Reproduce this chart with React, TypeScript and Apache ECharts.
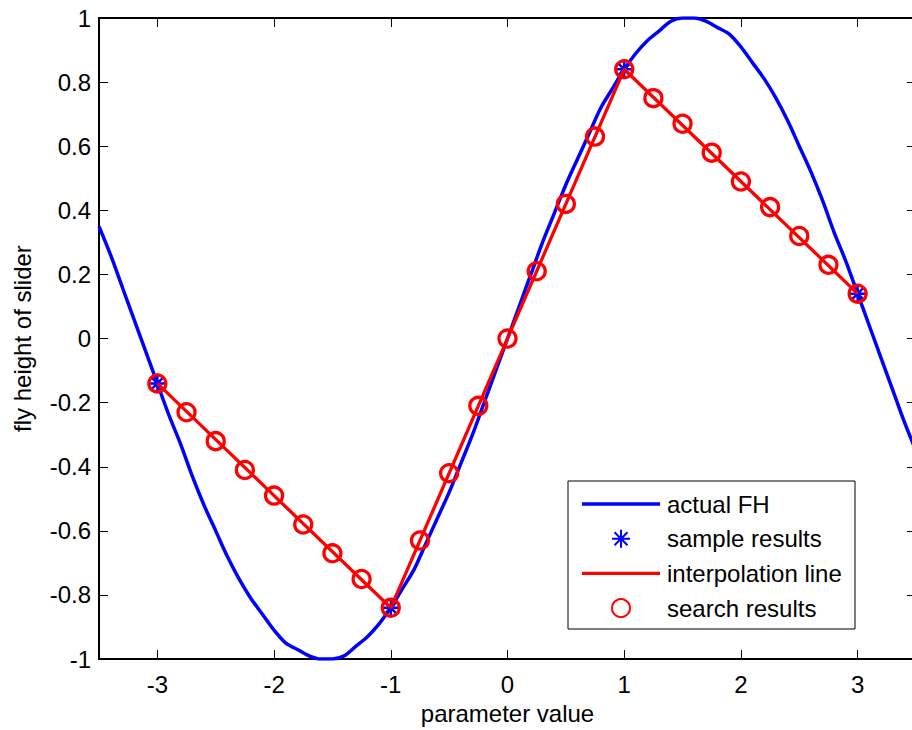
import React, { useEffect, useRef } from "react";
import * as echarts from "echarts";

const curveX = [
  -3.5, -3.4, -3.3, -3.2, -3.1, -3.0, -2.9, -2.8, -2.7, -2.6, -2.5, -2.4, -2.3, -2.2, -2.1, -2.0,
  -1.9, -1.8, -1.7, -1.6, -1.5, -1.4, -1.3, -1.2, -1.1, -1.0, -0.9, -0.8, -0.7, -0.6, -0.5, -0.4,
  -0.3, -0.2, -0.1, 0.0, 0.1, 0.2, 0.3, 0.4, 0.5, 0.6, 0.7, 0.8, 0.9, 1.0, 1.1, 1.2, 1.3, 1.4, 1.5,
  1.6, 1.7, 1.8, 1.9, 2.0, 2.1, 2.2, 2.3, 2.4, 2.5, 2.6, 2.7, 2.8, 2.9, 3.0, 3.1, 3.2, 3.3, 3.4, 3.5,
];
const curveY = [
  0.35, 0.26, 0.16, 0.06, -0.04, -0.14, -0.24, -0.33, -0.43, -0.52, -0.6, -0.68, -0.75, -0.81, -0.86, -0.91,
  -0.95, -0.97, -0.99, -1.0, -1.0, -0.99, -0.96, -0.93, -0.89, -0.84, -0.78, -0.72, -0.64, -0.56, -0.48, -0.39,
  -0.3, -0.2, -0.1, 0.0, 0.1, 0.2, 0.3, 0.39, 0.48, 0.56, 0.64, 0.72, 0.78, 0.84, 0.89, 0.93, 0.96, 0.99, 1.0,
  1.0, 0.99, 0.97, 0.95, 0.91, 0.86, 0.81, 0.75, 0.68, 0.6, 0.52, 0.43, 0.33, 0.24, 0.14, 0.04, -0.06, -0.16, -0.26, -0.35,
];

const sampleX = [-3, -1, 1, 3];
const sampleY = [-0.14, -0.84, 0.84, 0.14];

const searchX = [
  -3, -2.75, -2.5, -2.25, -2, -1.75, -1.5, -1.25, -1, -0.75, -0.5, -0.25, 0, 0.25, 0.5, 0.75, 1,
  1.25, 1.5, 1.75, 2, 2.25, 2.5, 2.75, 3,
];
const searchY = [
  -0.14, -0.23, -0.32, -0.41, -0.49, -0.58, -0.67, -0.75, -0.84, -0.63, -0.42, -0.21, 0.0, 0.21, 0.42, 0.63, 0.84,
  0.75, 0.67, 0.58, 0.49, 0.41, 0.32, 0.23, 0.14,
];

const xTicks = [-3, -2, -1, 0, 1, 2, 3];
const seriesNames = ["actual FH", "sample results", "interpolation line", "search results"];

const FONT = "'Liberation Sans', Arial, Helvetica, sans-serif";
const BLUE = "#0000ff";
const RED = "#ff0000";
const ASTERISK = "path://M0,-1L0,1M-1,0L1,0M-0.72,-0.72L0.72,0.72M-0.72,0.72L0.72,-0.72";
const LINE_ICON = "path://M0,0H78V3.4H0Z";

export default function App() {
  const ref = useRef<HTMLDivElement>(null);
  useEffect(() => {
    if (!ref.current) return;
    const chart = echarts.init(ref.current, undefined, { renderer: "svg" });
    const zip = (xs: number[], ys: number[]) => xs.map((x, i) => [x, ys[i]]);
    const axisLine = { onZero: false, lineStyle: { color: "#000", width: 2 } };
    const tick = { inside: true, length: 9, lineStyle: { color: "#000", width: 1 } };
    const labelStyle = { fontSize: 24, color: "#000", fontFamily: FONT };
    chart.setOption({
      animation: false,
      backgroundColor: "#fff",
      grid: { left: 99, top: 18, right: 4, bottom: 66, containLabel: false },
      xAxis: [
        {
          type: "value",
          position: "bottom",
          min: -3.5,
          max: 3.5,
          axisLine,
          axisTick: { ...tick, customValues: xTicks },
          axisLabel: { ...labelStyle, margin: 13, customValues: xTicks, formatter: (v: number) => String(v) },
          splitLine: { show: false },
          name: "parameter value",
          nameLocation: "middle",
          nameGap: 38,
          nameTextStyle: labelStyle,
        },
        {
          type: "value",
          position: "top",
          min: -3.5,
          max: 3.5,
          axisLine,
          axisTick: { ...tick, customValues: xTicks },
          axisLabel: { show: false, customValues: xTicks },
          splitLine: { show: false },
        },
      ],
      yAxis: [
        {
          type: "value",
          position: "left",
          min: -1,
          max: 1,
          interval: 0.2,
          axisLine,
          axisTick: tick,
          axisLabel: { ...labelStyle, margin: 8, formatter: (v: number) => String(Math.round(v * 10) / 10) },
          splitLine: { show: false },
          name: "fly height of slider",
          nameLocation: "middle",
          nameGap: 65,
          nameTextStyle: labelStyle,
        },
        {
          type: "value",
          position: "right",
          min: -1,
          max: 1,
          interval: 0.2,
          axisLine,
          axisTick: tick,
          axisLabel: { show: false },
          splitLine: { show: false },
        },
      ],
      graphic: [
        {
          type: "rect",
          shape: { x: 568, y: 481, width: 287, height: 148 },
          style: { fill: "#fff", stroke: "#000", lineWidth: 1 },
          z: 3,
        },
      ],
      legend: {
        data: [
          { name: seriesNames[0], icon: LINE_ICON },
          { name: seriesNames[1] },
          { name: seriesNames[2], icon: LINE_ICON },
          { name: seriesNames[3] },
        ],
        orient: "vertical",
        left: 582,
        top: 492,
        padding: 0,
        itemGap: 10.7,
        itemWidth: 78,
        itemHeight: 18,
        selectedMode: false,
        textStyle: { ...labelStyle, padding: [0, 0, 0, 2] },
        z: 5,
      },
      series: [
        {
          name: seriesNames[0],
          type: "line",
          data: zip(curveX, curveY),
          symbol: "none",
          smooth: 0.3,
          color: BLUE,
          itemStyle: { color: BLUE },
          lineStyle: { color: BLUE, width: 3.5 },
          z: 2,
        },
        {
          name: seriesNames[1],
          type: "scatter",
          data: zip(sampleX, sampleY),
          symbol: ASTERISK,
          symbolSize: 18,
          itemStyle: { color: "rgba(0,0,0,0)", borderColor: BLUE, borderWidth: 2.5, opacity: 1 },
          z: 3,
        },
        {
          name: seriesNames[2],
          type: "line",
          data: zip(sampleX, sampleY),
          symbol: "none",
          color: RED,
          itemStyle: { color: RED },
          lineStyle: { color: RED, width: 3.3 },
          z: 4,
        },
        {
          name: seriesNames[3],
          type: "scatter",
          data: zip(searchX, searchY),
          symbol: "circle",
          symbolSize: 17,
          itemStyle: { color: "rgba(0,0,0,0)", borderColor: RED, borderWidth: 3.3, opacity: 1 },
          z: 5,
        },
      ],
    });
    return () => chart.dispose();
  }, []);
  return (
    <div style={{ position: "fixed", left: 0, top: 0, width: 912, height: 730, overflow: "hidden", background: "#fff" }}>
      <div ref={ref} style={{ width: 920, height: 730 }} />
    </div>
  );
}
